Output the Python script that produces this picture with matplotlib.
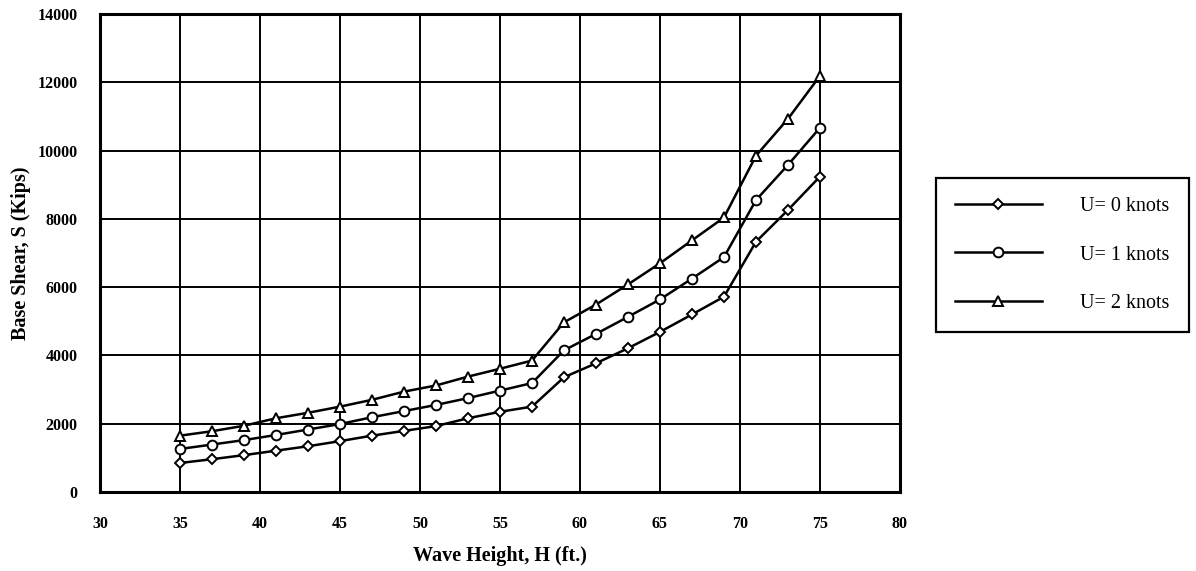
import numpy as np
import matplotlib.pyplot as plt

# Base shear vs wave height for three current speeds
wave_height = np.arange(35, 77, 2)

shear_u0 = [850, 960, 1080, 1210, 1340, 1490, 1650, 1790, 1930, 2160, 2350,
            2500, 3360, 3770, 4210, 4690, 5200, 5720, 7330, 8260, 9240]
shear_u1 = [1260, 1390, 1520, 1670, 1830, 1990, 2190, 2370, 2550, 2750, 2970,
            3190, 4150, 4630, 5130, 5640, 6250, 6880, 8550, 9580, 10670]
shear_u2 = [1650, 1780, 1940, 2160, 2320, 2500, 2700, 2940, 3120, 3380, 3610,
            3850, 4970, 5490, 6080, 6700, 7370, 8040, 9850, 10930, 12190]

series_labels = ["U= 0 knots", "U= 1 knots", "U= 2 knots"]
series_markers = ["D", "o", "^"]
marker_sizes = [5.5, 7, 7]

x_ticks = np.arange(30, 85, 5)
y_ticks = np.arange(0, 16000, 2000)

plt.rcParams['font.family'] = ['Liberation Serif', 'DejaVu Serif']

fig = plt.figure(figsize=(11.96, 5.71), dpi=100)
ax = fig.add_axes([100 / 1196, 1 - 492 / 571, 800 / 1196, 478 / 571])

for ys, lab, mk, ms in zip([shear_u0, shear_u1, shear_u2], series_labels,
                           series_markers, marker_sizes):
    ax.plot(wave_height, ys, color='black', lw=1.8, marker=mk, ms=ms,
            mfc='white', mec='black', mew=1.4, label=lab, zorder=3)

ax.set_xlim(30, 80)
ax.set_ylim(0, 14000)
ax.set_xticks(x_ticks)
ax.set_yticks(y_ticks)
ax.grid(True, color='black', lw=1.4)
ax.set_axisbelow(True)
for sp in ax.spines.values():
    sp.set_linewidth(2.2)

# no tick marks, bold numbers set well away from the frame
ax.tick_params(length=0, labelsize=11.5)
ax.tick_params(axis='x', pad=17)
ax.tick_params(axis='y', pad=16)
for t in ax.get_xticklabels() + ax.get_yticklabels():
    t.set_fontweight('bold')

ax.set_xlabel("Wave Height, H (ft.)", fontsize=14.5, fontweight='bold', labelpad=10)
ax.set_ylabel("Base Shear, S (Kips)", fontsize=14.5, fontweight='bold', labelpad=5)

leg = fig.legend(loc='upper left', bbox_to_anchor=(936 / 1196, 1 - 178 / 571),
                 fontsize=14.5, handlelength=4.3, handletextpad=1.9,
                 labelspacing=1.45, borderpad=0.95, borderaxespad=0,
                 fancybox=False, framealpha=1, edgecolor='black')
leg.get_frame().set_linewidth(1.6)

fig.savefig("out.png", dpi=100)
